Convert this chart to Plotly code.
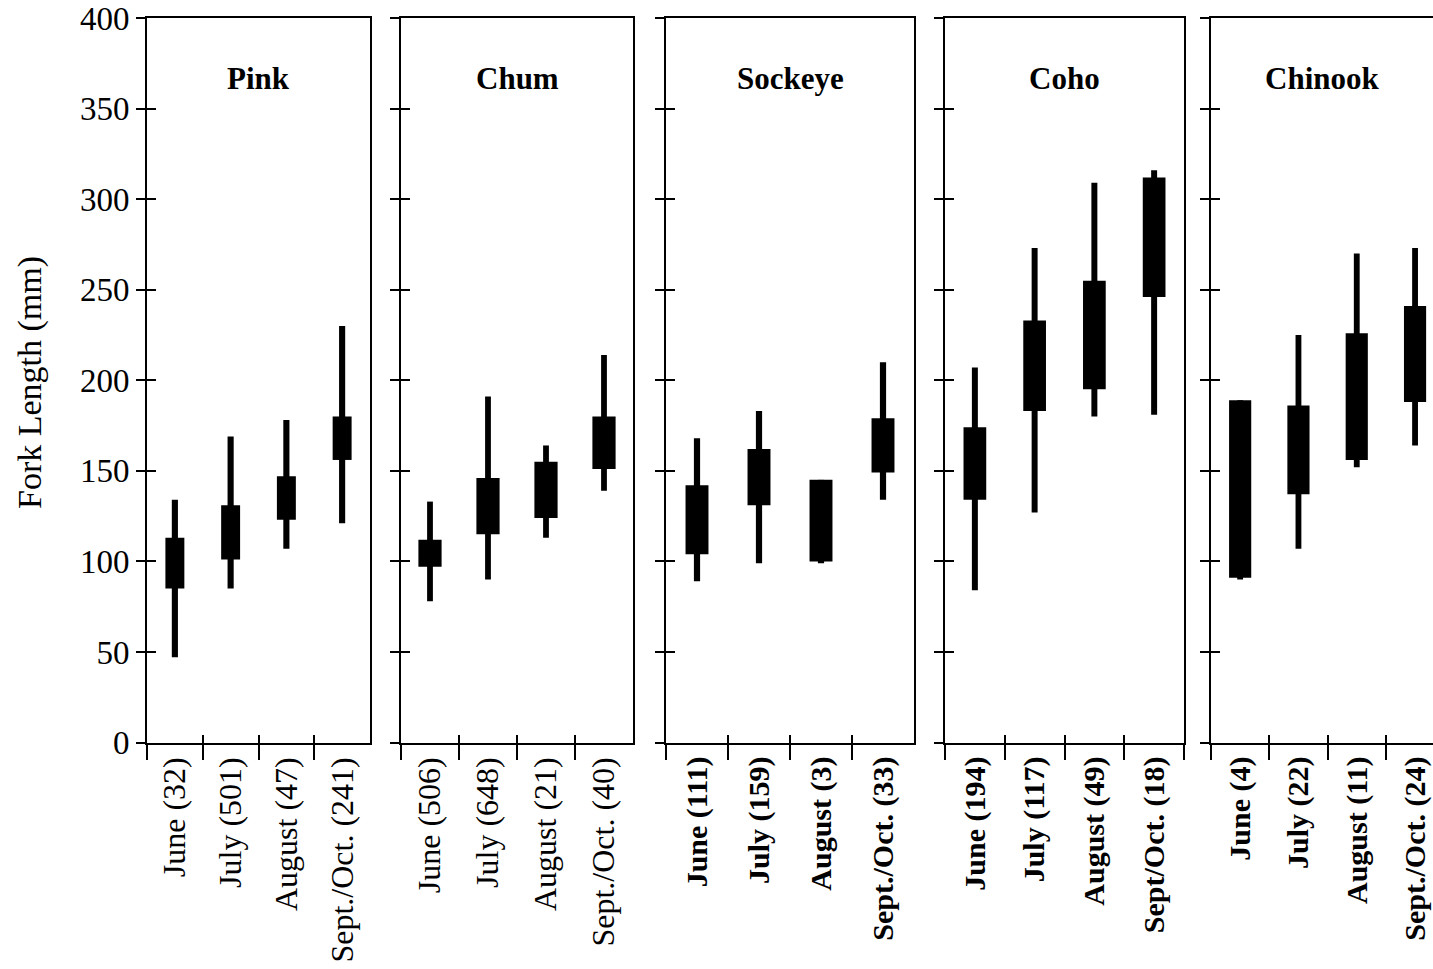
import plotly.graph_objects as go

# ---------------- data (fork length, mm) ----------------
species = ["Pink", "Chum", "Sockeye", "Coho", "Chinook"]

pink_labels = ["June (32)", "July (501)", "August (47)", "Sept./Oct. (241)"]
pink_min = [47, 85, 107, 121]
pink_q1 = [85, 101, 123, 156]
pink_q3 = [113, 131, 147, 180]
pink_max = [134, 169, 178, 230]

chum_labels = ["June (506)", "July (648)", "August (21)", "Sept./Oct. (40)"]
chum_min = [78, 90, 113, 139]
chum_q1 = [97, 115, 124, 151]
chum_q3 = [112, 146, 155, 180]
chum_max = [133, 191, 164, 214]

sockeye_labels = ["June (111)", "July (159)", "August (3)", "Sept./Oct. (33)"]
sockeye_min = [89, 99, 99, 134]
sockeye_q1 = [104, 131, 100, 149]
sockeye_q3 = [142, 162, 145, 179]
sockeye_max = [168, 183, 145, 210]

coho_labels = ["June (194)", "July (117)", "August (49)", "Sept/Oct. (18)"]
coho_min = [84, 127, 180, 181]
coho_q1 = [134, 183, 195, 246]
coho_q3 = [174, 233, 255, 312]
coho_max = [207, 273, 309, 316]

chinook_labels = ["June (4)", "July (22)", "August (11)", "Sept./Oct. (24)"]
chinook_min = [90, 107, 152, 164]
chinook_q1 = [91, 137, 156, 188]
chinook_q3 = [189, 186, 226, 241]
chinook_max = [189, 225, 270, 273]

y_ticks = [0, 50, 100, 150, 200, 250, 300, 350, 400]

# ---------------- layout constants ----------------
W, H = 1433, 969
FONT = "Liberation Serif"
panel_px = [(147, 370), (401, 633), (666, 914), (945, 1184), (1211, 1433)]
x_right = [3.5, 3.5, 3.5, 3.5, -0.5 + (1433 - 1211) / 58.3]
box_w = [0.34, 0.40, 0.37, 0.38, 0.38]
whisk_w = [0.11, 0.10, 0.10, 0.10, 0.10]
label_bold = [False, False, True, True, True]
y_dom = [(H - 742.5) / H, (H - 18) / H]

panels = [
    (pink_labels, pink_min, pink_q1, pink_q3, pink_max),
    (chum_labels, chum_min, chum_q1, chum_q3, chum_max),
    (sockeye_labels, sockeye_min, sockeye_q1, sockeye_q3, sockeye_max),
    (coho_labels, coho_min, coho_q1, coho_q3, coho_max),
    (chinook_labels, chinook_min, chinook_q1, chinook_q3, chinook_max),
]

fig = go.Figure()
layout = {}
annotations = []

for i, (labels, lo, q1, q3, hi) in enumerate(panels):
    n = i + 1
    xa = "x" if n == 1 else f"x{n}"
    ya = "y" if n == 1 else f"y{n}"
    xo = f"x{n + 5}"
    yo = f"y{n + 5}"

    # whiskers
    fig.add_trace(go.Bar(
        x=labels, y=[h - l for h, l in zip(hi, lo)], base=lo,
        width=whisk_w[i], marker=dict(color="black", line=dict(width=0)),
        xaxis=xa, yaxis=ya, showlegend=False, hoverinfo="skip"))
    # boxes
    fig.add_trace(go.Bar(
        x=labels, y=[b - a for b, a in zip(q3, q1)], base=q1,
        width=box_w[i], marker=dict(color="black", line=dict(width=0)),
        xaxis=xa, yaxis=ya, showlegend=False, hoverinfo="skip"))
    # dummy traces to activate overlay axes (inside half of crossing ticks)
    fig.add_trace(go.Scatter(x=[None], y=[None], xaxis=xo, yaxis=ya,
                             showlegend=False, hoverinfo="skip"))
    fig.add_trace(go.Scatter(x=[None], y=[None], xaxis=xa, yaxis=yo,
                             showlegend=False, hoverinfo="skip"))

    dom = [panel_px[i][0] / W, min(panel_px[i][1] / W, 1.0)]
    tickfont = dict(family=FONT, size=32, color="black")
    if label_bold[i]:
        tickfont["weight"] = "bold"
        tickfont["size"] = 30

    layout[("xaxis" if n == 1 else f"xaxis{n}")] = dict(
        domain=dom, anchor=ya, type="category", categoryarray=labels,
        range=[-0.5, x_right[i]], tickson="boundaries", ticks="outside",
        ticklen=15, tickwidth=2, tickcolor="black", tickangle=-90,
        tickfont=tickfont, showline=True, linewidth=2, linecolor="black",
        mirror=True, showgrid=False, zeroline=False, fixedrange=True,
        automargin=False)
    layout[("yaxis" if n == 1 else f"yaxis{n}")] = dict(
        domain=y_dom, anchor=xa, range=[0, 400], tickmode="array",
        tickvals=y_ticks, ticks="outside", ticklen=9, tickwidth=2,
        tickcolor="black", showticklabels=(n == 1),
        tickfont=dict(family=FONT, size=33, color="black"),
        showline=True, linewidth=2, linecolor="black",
        mirror=(n != 5), showgrid=False, zeroline=False, fixedrange=True,
        automargin=False)
    layout[f"xaxis{n + 5}"] = dict(
        overlaying=xa, anchor=ya, type="linear", range=[-0.5, x_right[i]],
        tickmode="array", tickvals=[-0.5, 0.5, 1.5, 2.5, 3.5],
        ticks="inside", ticklen=8, tickwidth=2, tickcolor="black",
        showticklabels=False, showline=False, showgrid=False,
        zeroline=False, fixedrange=True, side="bottom", automargin=False)
    layout[f"yaxis{n + 5}"] = dict(
        overlaying=ya, anchor=xa, range=[0, 400], tickmode="array",
        tickvals=y_ticks, ticks="inside", ticklen=9, tickwidth=2,
        tickcolor="black", showticklabels=False, showline=False,
        showgrid=False, zeroline=False, fixedrange=True, side="left",
        automargin=False)

    annotations.append(dict(
        text=f"<b>{species[i]}</b>", xref=f"{xa} domain", x=0.5,
        yref="paper", y=(H - 78) / H, xanchor="center", yanchor="middle",
        showarrow=False, font=dict(family=FONT, size=31, color="black")))

annotations.append(dict(
    text="Fork Length (mm)", xref="paper", x=30 / W, yref="paper",
    y=(H - 383) / H, textangle=-90, xanchor="center", yanchor="middle",
    showarrow=False, font=dict(family=FONT, size=34, color="black")))

fig.update_layout(
    template="none",
    width=W, height=H, margin=dict(l=0, r=0, t=0, b=0, pad=0),
    paper_bgcolor="white", plot_bgcolor="white", barmode="overlay",
    showlegend=False, annotations=annotations, **layout)

fig.write_html(
    "out.html",
    config={"displayModeBar": False},
    post_script="document.body.style.margin='0';"
                "document.body.style.overflow='hidden';")
